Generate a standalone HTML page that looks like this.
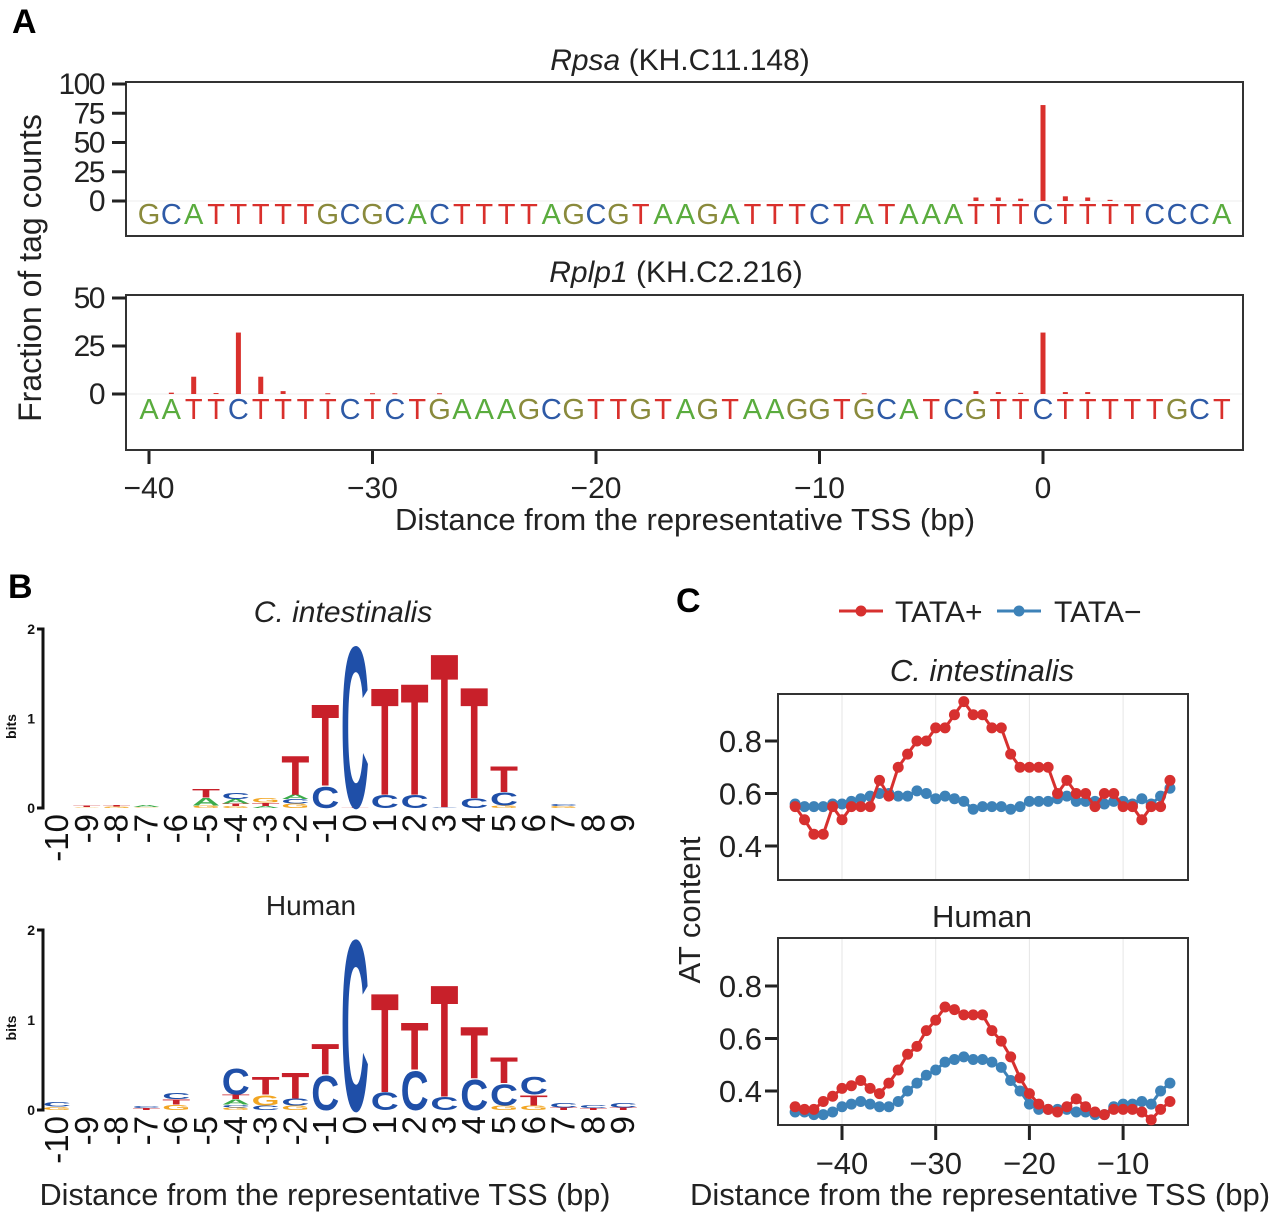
<!DOCTYPE html>
<html><head><meta charset="utf-8">
<style>
html,body{margin:0;padding:0;background:#fff;}
svg{display:block;font-family:"Liberation Sans",Arial,sans-serif;}
</style></head>
<body>
<svg id="fig" width="1280" height="1214" viewBox="0 0 1280 1214" xmlns="http://www.w3.org/2000/svg">
<text x="12" y="33" font-size="34" font-weight="bold">A</text>
<text x="8" y="598" font-size="34" font-weight="bold">B</text>
<text x="676" y="612" font-size="34" font-weight="bold">C</text>

<text x="680" y="70" font-size="30" text-anchor="middle" fill="#222"><tspan font-style="italic">Rpsa</tspan> (KH.C11.148)</text>
<text x="676" y="282" font-size="30" text-anchor="middle" fill="#222"><tspan font-style="italic">Rplp1</tspan> (KH.C2.216)</text>
<text transform="translate(41,268) rotate(-90)" font-size="32" text-anchor="middle" fill="#222">Fraction of tag counts</text>
<text x="685" y="530" font-size="31" text-anchor="middle" fill="#222">Distance from the representative TSS (bp)</text>
<rect x="126" y="82" width="1117" height="154" fill="none" stroke="#333" stroke-width="2"/>
<rect x="126" y="295" width="1117" height="155" fill="none" stroke="#333" stroke-width="2"/>
<g id="gA"></g>

<text x="343" y="622" font-size="30" font-style="italic" text-anchor="middle" fill="#222">C. intestinalis</text>
<text x="311" y="915" font-size="28" text-anchor="middle" fill="#222">Human</text>
<text x="325" y="1205" font-size="30.5" text-anchor="middle" fill="#222">Distance from the representative TSS (bp)</text>
<g id="gB"></g>

<g>
<line x1="839" y1="611" x2="883" y2="611" stroke="#d7302f" stroke-width="3"/>
<circle cx="861" cy="611" r="5.5" fill="#d7302f"/>
<text x="895" y="622" font-size="30" fill="#222">TATA+</text>
<line x1="997" y1="611" x2="1041" y2="611" stroke="#3d82b8" stroke-width="3"/>
<circle cx="1019" cy="611" r="5.5" fill="#3d82b8"/>
<text x="1054" y="622" font-size="30" fill="#222">TATA−</text>
</g>
<text x="982" y="681" font-size="31" font-style="italic" text-anchor="middle" fill="#222">C. intestinalis</text>
<text x="982" y="927" font-size="31" text-anchor="middle" fill="#222">Human</text>
<text transform="translate(700,910) rotate(-90)" font-size="31" text-anchor="middle" fill="#222">AT content</text>
<text x="980" y="1205" font-size="31" text-anchor="middle" fill="#222">Distance from the representative TSS (bp)</text>
<g id="gC"></g>
</svg>
<script>
// ---------- Panel A data ----------
const seqRpsa = "GCATTTTTGCGCACTTTTAGCGTAAGATTTCTATAAATTTCTTTTCCCA";
const seqRplp1 = "AATTCTTTTCTCTGAAAGCGTTGTAGTAAGGTGCATCGTTCTTTTTGCT";
const rpsaPos = [-3, -2, -1, 0, 1, 2, 3];
const rpsaVal = [3, 3, 2, 82, 4, 3, 1];
const rplp1Pos = [-39, -38, -37, -36, -35, -34, -32, -30, -29, -27, -8, -3, -2, -1, 0, 1, 2];
const rplp1Val = [0.7, 9, 0.5, 32, 9, 1.5, 0.4, 0.4, 0.4, 0.4, 0.4, 1.5, 1, 0.6, 32, 1, 1];
const rpsaTicks = [0, 25, 50, 75, 100];
const rplp1Ticks = [0, 25, 50];
const aXTicks = [-40, -30, -20, -10, 0];

// ---------- Panel B data (bits per letter, bottom-to-top) ----------
const logoPositions = [-10,-9,-8,-7,-6,-5,-4,-3,-2,-1,0,1,2,3,4,5,6,7,8,9];
const logoCint = [
 [],
 [["G",0.01],["T",0.015]],
 [["G",0.015],["T",0.015]],
 [["G",0.01],["A",0.02]],
 [],
 [["G",0.03],["A",0.09],["T",0.1]],
 [["G",0.02],["T",0.03],["A",0.05],["C",0.07]],
 [["A",0.02],["T",0.04],["G",0.05]],
 [["G",0.05],["C",0.05],["A",0.05],["T",0.45]],
 [["C",0.25],["T",0.95]],
 [["T",0.01],["C",1.88]],
 [["C",0.15],["T",1.25]],
 [["C",0.15],["T",1.3]],
 [["C",0.01],["T",1.8]],
 [["C",0.11],["T",1.3]],
 [["G",0.03],["C",0.15],["T",0.3]],
 [],
 [["G",0.02],["C",0.02]],
 [],
 []
];
const logoHuman = [
 [["G",0.04],["C",0.05]],
 [],
 [],
 [["T",0.02],["C",0.02]],
 [["G",0.06],["T",0.06],["C",0.07]],
 [],
 [["G",0.03],["C",0.03],["A",0.06],["T",0.05],["C",0.3]],
 [["C",0.05],["G",0.12],["T",0.2]],
 [["G",0.05],["C",0.08],["T",0.3]],
 [["C",0.4],["T",0.35]],
 [["C",1.98]],
 [["C",0.2],["T",1.15]],
 [["C",0.45],["T",0.55]],
 [["C",0.15],["T",1.3]],
 [["C",0.35],["T",0.6]],
 [["G",0.05],["C",0.25],["T",0.3]],
 [["G",0.05],["T",0.12],["C",0.2]],
 [["T",0.03],["C",0.05]],
 [["T",0.02],["C",0.04]],
 [["T",0.03],["C",0.05]]
];
const bitsTicks = [0, 1, 2];

// ---------- Panel C data ----------
const distC = [-45,-44,-43,-42,-41,-40,-39,-38,-37,-36,-35,-34,-33,-32,-31,-30,-29,-28,-27,-26,-25,-24,-23,-22,-21,-20,-19,-18,-17,-16,-15,-14,-13,-12,-11,-10,-9,-8,-7,-6,-5];
const cintPlus = [0.55,0.50,0.445,0.445,0.55,0.50,0.55,0.55,0.55,0.65,0.59,0.70,0.75,0.80,0.80,0.85,0.85,0.90,0.95,0.90,0.90,0.85,0.85,0.75,0.70,0.70,0.70,0.70,0.60,0.65,0.60,0.60,0.55,0.60,0.60,0.55,0.55,0.50,0.55,0.55,0.65];
const cintMinus = [0.56,0.55,0.55,0.55,0.56,0.56,0.57,0.58,0.59,0.60,0.60,0.59,0.59,0.61,0.60,0.58,0.59,0.58,0.57,0.54,0.55,0.55,0.55,0.54,0.55,0.57,0.57,0.57,0.58,0.59,0.57,0.57,0.57,0.56,0.57,0.57,0.56,0.58,0.56,0.59,0.62];
const humanPlus = [0.34,0.33,0.33,0.36,0.38,0.41,0.42,0.44,0.41,0.39,0.43,0.48,0.54,0.57,0.63,0.67,0.72,0.71,0.69,0.69,0.69,0.63,0.59,0.53,0.45,0.39,0.35,0.33,0.32,0.34,0.37,0.34,0.32,0.31,0.33,0.33,0.33,0.32,0.29,0.33,0.36];
const humanMinus = [0.32,0.32,0.31,0.31,0.32,0.34,0.35,0.36,0.35,0.34,0.34,0.36,0.40,0.43,0.46,0.48,0.51,0.52,0.53,0.52,0.52,0.51,0.49,0.44,0.40,0.35,0.33,0.33,0.33,0.33,0.32,0.32,0.31,0.31,0.34,0.35,0.35,0.36,0.35,0.40,0.43];
const cYTicks = [0.4, 0.6, 0.8];
const cXTicks = [-40, -30, -20, -10];

const NS = "http://www.w3.org/2000/svg";
function mk(tag, attrs, parent, txt) {
  const e = document.createElementNS(NS, tag);
  for (const k in attrs) e.setAttribute(k, attrs[k]);
  if (txt !== undefined) e.textContent = txt;
  parent.appendChild(e);
  return e;
}
const baseColor = {A:"#5aac3e", C:"#2e5aa6", G:"#8a8a3c", T:"#d9302c"};
const logoColor = {A:"#3bab4a", C:"#1f4fa8", G:"#f2a623", T:"#c8202a"};

// ---------- Panel A ----------
const gA = document.getElementById("gA");
const axX = v => 1043 + v * 22.35;
function drawTrack(seq, pos, vals, ticks, y0, yPerUnit, letterY, name) {
  const yS = v => y0 - v * yPerUnit;
  const g = mk("g", {}, gA);
  
  
  const base = mk("line", {x1:127, x2:1242, y1:y0, y2:y0, stroke:"#eee", "stroke-width":1}, g);
  
  
  ticks.forEach(t => {
    const tl = mk("line", {x1:112, x2:126, y1:yS(t), y2:yS(t), stroke:"#222", "stroke-width":3}, g);
    
    
    const tx = mk("text", {x:104, y:yS(t)+10, "font-size":30, "text-anchor":"end", fill:"#222", "letter-spacing":"-1.5"}, g, String(t));
    
    
  });
  for (let i = 0; i < seq.length; i++) {
    const p = i - 40;
    const ch = seq[i];
    const t = mk("text", {x:axX(p), y:letterY, "font-size":29, "text-anchor":"middle", fill:baseColor[ch]}, g, ch);
    
    
  }
  pos.forEach((p, i) => {
    const b = mk("rect", {x:axX(p)-2.5, y:yS(vals[i]), width:5, height:Math.max(1, vals[i]*yPerUnit), fill:"#d9302c"}, g);
    
    
  });
}
drawTrack(seqRpsa, rpsaPos, rpsaVal, rpsaTicks, 201, 1.17, 224, "rpsa");
drawTrack(seqRplp1, rplp1Pos, rplp1Val, rplp1Ticks, 394, 1.92, 419, "rplp1");
aXTicks.forEach(t => {
  const l = mk("line", {x1:axX(t), x2:axX(t), y1:451, y2:464, stroke:"#222", "stroke-width":3}, gA);
  
  
  const tx = mk("text", {x:axX(t), y:498, "font-size":30, "text-anchor":"middle", fill:"#222"}, gA, t < 0 ? "−" + Math.abs(t) : String(t));
  
  
});

// ---------- Panel B ----------
const gB = document.getElementById("gB");
const logoX = p => 57 + (p + 10) * 29.8;
function drawLogo(stacks, y0, perBit, name) {
  const g = mk("g", {}, gB);
  
  
  const yS = v => y0 - v * perBit;
  const ax = mk("path", {d:`M37 ${yS(2)} H43 V${y0} H37`, fill:"none", stroke:"#111", "stroke-width":3}, g);
  
  
  bitsTicks.forEach(t => {
    const tx = mk("text", {x:35, y:yS(t)+5, "font-size":14, "font-weight":"bold", "text-anchor":"end", fill:"#111"}, g, String(t));
    
    
  });
  const bl = mk("text", {transform:`translate(16,${yS(1)+8}) rotate(-90)`, "font-size":14, "font-weight":"bold", "text-anchor":"middle", fill:"#111"}, g, "bits");
  
  
  logoPositions.forEach((p, i) => {
    let acc = 0;
    const cx = logoX(p);
    stacks[i].forEach(([ch, h]) => {
      const yb = yS(acc);
      const hp = h * perBit;
      acc += h;
      if (hp < 0.3) return;
      const sy = hp / 72.9;
      const t = mk("text", {transform:`translate(${cx-14},${yb}) scale(1,${sy})`, x:0, y:0, "font-size":100, "font-weight":"bold", textLength:28, lengthAdjust:"spacingAndGlyphs", fill:logoColor[ch]}, g, ch);
      
      
    });
    const lab = mk("text", {transform:`translate(${cx+11},${y0+6}) rotate(-90)`, "font-size":33, "text-anchor":"end", fill:"#111"}, g, String(p));
    
    
  });
}
drawLogo(logoCint, 808, 89.5, "logo-cint");
drawLogo(logoHuman, 1110, 90, "logo-human");

// ---------- Panel C ----------
const gC = document.getElementById("gC");
const cX = v => 842 + (v + 40) * 9.37;
function drawLines(plus, minus, y08, top, bottom, name) {
  const yS = v => y08 + (0.8 - v) * 262.5;
  const g = mk("g", {}, gC);
  
  
  cXTicks.forEach(t => {
    const gl = mk("line", {x1:cX(t), x2:cX(t), y1:top, y2:bottom, stroke:"#e6e6e6", "stroke-width":1}, g);
    
    
  });
  const fr = mk("rect", {x:778, y:top, width:410, height:bottom-top, fill:"none", stroke:"#333", "stroke-width":2}, g);
  
  
  cYTicks.forEach(t => {
    const tl = mk("line", {x1:765, x2:777, y1:yS(t), y2:yS(t), stroke:"#222", "stroke-width":3}, g);
    
    
    const tx = mk("text", {x:762, y:yS(t)+11, "font-size":31, "text-anchor":"end", fill:"#222"}, g, t.toFixed(1));
    
    
  });
  [[minus, "#3d82b8", "tata-minus"], [plus, "#d7302f", "tata-plus"]].forEach(([vals, col, nm]) => {
    const d = vals.map((v, i) => (i ? "L" : "M") + cX(distC[i]).toFixed(1) + " " + yS(v).toFixed(1)).join(" ");
    const ln = mk("path", {d, fill:"none", stroke:col, "stroke-width":3}, g);
    
    
    vals.forEach((v, i) => {
      const c = mk("circle", {cx:cX(distC[i]), cy:yS(v), r:5.5, fill:col}, g);
      
      
    });
  });
}
drawLines(cintPlus, cintMinus, 741, 694, 880, "at-cint");
drawLines(humanPlus, humanMinus, 986, 938, 1125, "at-human");
cXTicks.forEach(t => {
  const l = mk("line", {x1:cX(t), x2:cX(t), y1:1126, y2:1140, stroke:"#222", "stroke-width":3}, gC);
  
  
  const tx = mk("text", {x:cX(t), y:1174, "font-size":31, "text-anchor":"middle", fill:"#222"}, gC, "−" + Math.abs(t));
  
  
});
</script>
</body></html>
